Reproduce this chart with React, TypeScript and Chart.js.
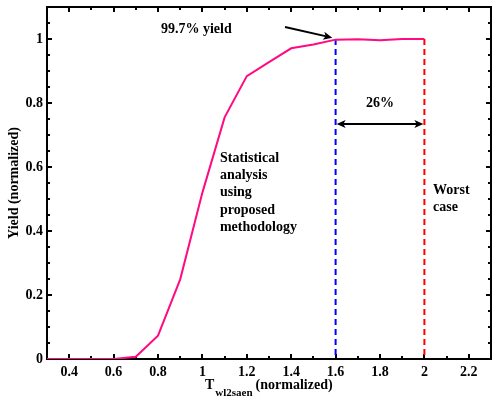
import React, { useEffect, useRef } from "react";
import { Chart, registerables } from "chart.js";

Chart.register(...registerables);

const tValues = [0.3, 0.4, 0.5, 0.6, 0.7, 0.8, 0.9, 1.0, 1.1, 1.2, 1.3, 1.4, 1.5, 1.6, 1.7, 1.8, 1.9, 2.0];
const yieldValues = [0, 0, 0, 0, 0.007, 0.073, 0.249, 0.52, 0.755, 0.884, 0.928, 0.971, 0.983, 0.998, 0.999, 0.996, 1.0, 1.0];
const proposedX = 1.6;
const worstX = 2.0;
const limitYield = 1.0;
const xTickLabels = [0.4, 0.6, 0.8, 1, 1.2, 1.4, 1.6, 1.8, 2, 2.2];
const yTickLabels = [0, 0.2, 0.4, 0.6, 0.8, 1];
const yieldText = "99.7% yield";
const marginText = "26%";
const statText = ["Statistical", "analysis", "using", "proposed", "methodology"];
const worstText = ["Worst", "case"];

const FONT = "'Liberation Serif', 'Times New Roman', serif";

function arrowHead(ctx: CanvasRenderingContext2D, x: number, y: number, ang: number, len: number, w: number) {
  ctx.save();
  ctx.translate(x, y);
  ctx.rotate(ang);
  ctx.beginPath();
  ctx.moveTo(0, 0);
  ctx.lineTo(-len, -w);
  ctx.lineTo(-len * 0.75, 0);
  ctx.lineTo(-len, w);
  ctx.closePath();
  ctx.fill();
  ctx.restore();
}

const decorPlugin = {
  id: "decor",
  beforeDatasetsDraw(chart: any) {
    const ctx: CanvasRenderingContext2D = chart.ctx;
    const { left, right, top, bottom } = chart.chartArea;
    const xs = chart.scales.x;
    const ys = chart.scales.y;
    ctx.save();
    ctx.strokeStyle = "#000";
    ctx.lineWidth = 2;
    for (let i = 3; i <= 23; i++) {
      const v = i / 10;
      const px = Math.round(xs.getPixelForValue(v));
      if (px <= left + 1 || px >= right - 1) continue;
      const len = i % 2 === 0 ? 5 : 3;
      ctx.beginPath();
      ctx.moveTo(px, bottom);
      ctx.lineTo(px, bottom - len);
      ctx.moveTo(px, top);
      ctx.lineTo(px, top + len);
      ctx.stroke();
    }
    for (let i = 0; i <= 22; i++) {
      const v = i / 20;
      const py = Math.round(ys.getPixelForValue(v));
      if (py <= top + 1 || py >= bottom - 1) continue;
      const len = i % 4 === 0 ? 5 : 3;
      ctx.beginPath();
      ctx.moveTo(left, py);
      ctx.lineTo(left + len, py);
      ctx.moveTo(right, py);
      ctx.lineTo(right - len, py);
      ctx.stroke();
    }
    ctx.strokeRect(left, top, right - left, bottom - top);
    ctx.restore();
  },
  afterDatasetsDraw(chart: any) {
    const ctx: CanvasRenderingContext2D = chart.ctx;
    const { top, bottom } = chart.chartArea;
    const xs = chart.scales.x;
    const ys = chart.scales.y;
    ctx.save();
    ctx.strokeStyle = "#000";
    ctx.fillStyle = "#000";

    ctx.font = `bold 14px ${FONT}`;
    ctx.textBaseline = "middle";
    ctx.textAlign = "left";
    ctx.fillText(yieldText, xs.getPixelForValue(0.813), ys.getPixelForValue(1.031));
    statText.forEach((s, i) => {
      ctx.fillText(s, xs.getPixelForValue(1.079), ys.getPixelForValue(0.628) + i * 17.3);
    });
    worstText.forEach((s, i) => {
      ctx.fillText(s, xs.getPixelForValue(2.039), ys.getPixelForValue(0.528) + i * 17.3);
    });
    ctx.textAlign = "center";
    ctx.fillText(marginText, xs.getPixelForValue((proposedX + worstX) / 2), ys.getPixelForValue(0.8));

    // pointer arrow
    ctx.lineWidth = 2;
    const ax0 = xs.getPixelForValue(1.372), ay0 = ys.getPixelForValue(1.0375);
    const ax1 = xs.getPixelForValue(1.585), ay1 = ys.getPixelForValue(1.004);
    const ang = Math.atan2(ay1 - ay0, ax1 - ax0);
    ctx.beginPath();
    ctx.moveTo(ax0, ay0);
    ctx.lineTo(ax1 - 6 * Math.cos(ang), ay1 - 6 * Math.sin(ang));
    ctx.stroke();
    arrowHead(ctx, ax1, ay1, ang, 9, 4);

    // double arrow
    const dy = ys.getPixelForValue(0.734);
    const dx0 = xs.getPixelForValue(proposedX) + 1;
    const dx1 = xs.getPixelForValue(worstX) - 1;
    ctx.beginPath();
    ctx.moveTo(dx0 + 5, dy);
    ctx.lineTo(dx1 - 5, dy);
    ctx.stroke();
    arrowHead(ctx, dx1, dy, 0, 9, 4);
    arrowHead(ctx, dx0, dy, Math.PI, 9, 4);

    // axis titles
    ctx.textAlign = "center";
    ctx.save();
    ctx.translate(14, (top + bottom) / 2);
    ctx.rotate(-Math.PI / 2);
    ctx.fillText("Yield (normalized)", 0, 0);
    ctx.restore();

    ctx.textAlign = "left";
    ctx.textBaseline = "alphabetic";
    const tx = 205;
    ctx.font = `bold 14px ${FONT}`;
    ctx.fillText("T", tx, 389);
    const tw = ctx.measureText("T").width;
    ctx.font = `bold 11px ${FONT}`;
    ctx.fillText("wl2saen", tx + tw + 1, 396);
    const sw = ctx.measureText("wl2saen").width;
    ctx.font = `bold 14px ${FONT}`;
    ctx.fillText("(normalized)", tx + tw + 1 + sw + 3, 389);
    ctx.restore();
  },
};

export default function App() {
  const ref = useRef<HTMLCanvasElement | null>(null);
  useEffect(() => {
    if (!ref.current) return;
    const chart = new Chart(ref.current, {
      type: "line",
      data: {
        datasets: [
          {
            data: tValues.map((t, i) => ({ x: t, y: yieldValues[i] })),
            borderColor: "#ff0a82",
            borderWidth: 2,
            pointRadius: 0,
            tension: 0,
            order: 0,
          },
          {
            data: [{ x: proposedX, y: limitYield }, { x: proposedX, y: 0 }],
            borderColor: "#0000ff",
            borderWidth: 2,
            borderDash: [6, 4],
            pointRadius: 0,
            order: 1,
          },
          {
            data: [{ x: worstX, y: limitYield }, { x: worstX, y: 0 }],
            borderColor: "#ff0000",
            borderWidth: 2,
            borderDash: [6, 4],
            pointRadius: 0,
            order: 1,
          },
        ],
      },
      options: {
        responsive: false,
        animation: false,
        events: [],
        layout: { padding: { top: 7, right: 1, left: 0, bottom: 0 } },
        plugins: { legend: { display: false }, tooltip: { enabled: false } },
        scales: {
          x: {
            type: "linear",
            min: 0.3,
            max: 2.3,
            grid: { display: false, drawTicks: false },
            border: { display: false },
            afterFit: (s: any) => { s.height = 41; s.paddingLeft = 0; s.paddingRight = 0; },
            afterBuildTicks: (s: any) => { s.ticks = xTickLabels.map((v) => ({ value: v })); },
            ticks: {
              padding: 5,
              color: "#000",
              font: { family: FONT, size: 14, weight: "bold" },
              callback: (v: any) => String(Math.round(Number(v) * 10) / 10),
            },
          },
          y: {
            type: "linear",
            min: 0,
            max: 1.1,
            grid: { display: false, drawTicks: false },
            border: { display: false },
            afterFit: (s: any) => { s.width = 47; s.paddingTop = 0; s.paddingBottom = 0; },
            afterBuildTicks: (s: any) => { s.ticks = yTickLabels.map((v) => ({ value: v })); },
            ticks: {
              padding: 4,
              color: "#000",
              font: { family: FONT, size: 14, weight: "bold" },
              callback: (v: any) => String(Math.round(Number(v) * 10) / 10),
            },
          },
        },
      },
      plugins: [decorPlugin],
    } as any);
    return () => chart.destroy();
  }, []);
  return (
    <div style={{ position: "fixed", left: 0, top: 0, width: 492, height: 400, background: "#fff" }}>
      <canvas ref={ref} width={492} height={400} />
    </div>
  );
}
